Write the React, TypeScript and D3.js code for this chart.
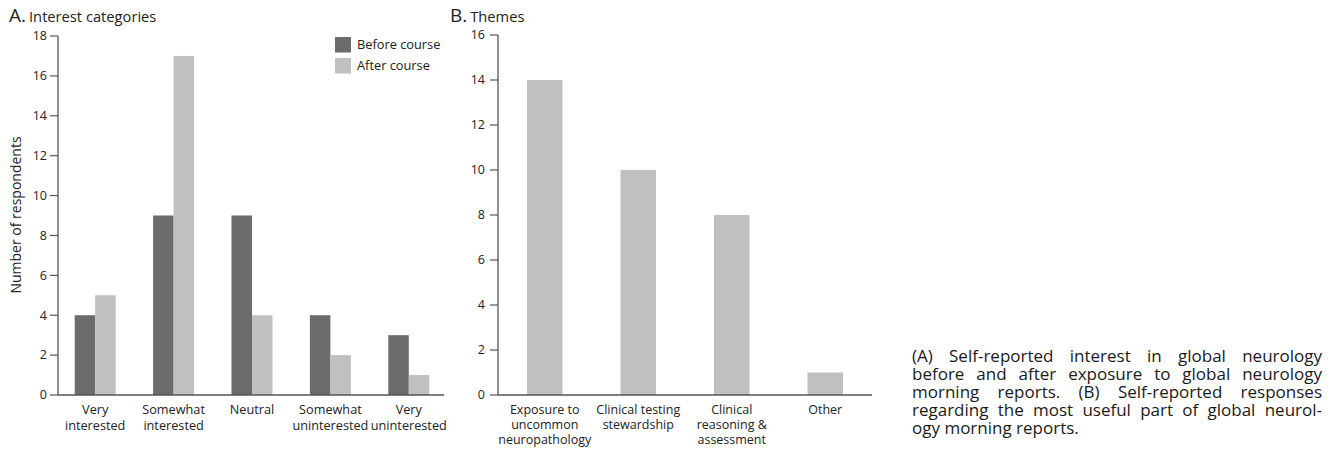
import React from "react";
import * as d3 from "d3";

const categoriesA = ["Very interested", "Somewhat interested", "Neutral", "Somewhat uninterested", "Very uninterested"];
const labelsA = [["Very", "interested"], ["Somewhat", "interested"], ["Neutral"], ["Somewhat", "uninterested"], ["Very", "uninterested"]];
const beforeValues = [4, 9, 9, 4, 3];
const afterValues = [5, 17, 4, 2, 1];
const ticksA = [0, 2, 4, 6, 8, 10, 12, 14, 16, 18];

const categoriesB = ["Exposure to uncommon neuropathology", "Clinical testing stewardship", "Clinical reasoning & assessment", "Other"];
const labelsB = [["Exposure to", "uncommon", "neuropathology"], ["Clinical testing", "stewardship"], ["Clinical", "reasoning &", "assessment"], ["Other"]];
const themeValues = [14, 10, 8, 1];
const ticksB = [0, 2, 4, 6, 8, 10, 12, 14, 16];

const seriesNames = ["Before course", "After course"];
const captionLines = [
  "(A) Self-reported interest in global neurology",
  "before and after exposure to global neurology",
  "morning reports. (B) Self-reported responses",
  "regarding the most useful part of global neurol-",
  "ogy morning reports.",
];

const FONT = "'Open Sans', 'Noto Sans', sans-serif";
const DARK = "#6b6b6b";
const LIGHT = "#c0c0c0";
const AXIS = "#555";
const TEXT = "#222";

let ctx: CanvasRenderingContext2D | null = null;
function measure(t: string, size: number) {
  if (!ctx) ctx = document.createElement("canvas").getContext("2d");
  if (!ctx) return t.length * size * 0.55;
  ctx.font = `${size}px 'Open Sans'`;
  return ctx.measureText(t).width;
}

function Caption({ x, y, width, lh, size }: any) {
  return (
    <g fontFamily={FONT} fontSize={size} fill="#1a1a1a">
      {captionLines.map((line, i) => {
        const yy = y + i * lh;
        const last = i === captionLines.length - 1;
        if (last) return <text key={i} x={x} y={yy}>{line}</text>;
        const words = line.split(" ");
        const wl = words.map((w) => measure(w, size));
        const total = wl.reduce((a, b) => a + b, 0);
        const gap = (width - total) / (words.length - 1);
        let cx = x;
        return (
          <g key={i}>
            {words.map((w, j) => {
              const px = cx;
              cx += wl[j] + gap;
              return <text key={j} x={px} y={yy}>{w}</text>;
            })}
          </g>
        );
      })}
    </g>
  );
}

export default function App() {
  const y0 = 395;
  // Panel A
  const axA = 58, axAEnd = 444;
  const xA = d3.scaleBand().domain(categoriesA).range([56, 448]).padding(0);
  const yA = d3.scaleLinear().domain([0, 18]).range([y0, 36]);
  const barW = 20.5;
  const xInner = d3.scaleBand().domain(seriesNames).range([0, barW * 2]);
  const groupW = barW * 2;

  // Panel B
  const axB = 498, axBEnd = 872;
  const xB = d3.scaleBand().domain(categoriesB).range([axB, axBEnd]).padding(0);
  const yB = d3.scaleLinear().domain([0, 16]).range([y0, 35]);
  const barWB = xB.bandwidth() * 0.38;

  const tickLen = 8;
  const tickFont = 12.5;

  return (
    <svg width={1336} height={451} style={{ position: "absolute", left: 0, top: 0, background: "#fff" }} fontFamily={FONT}>
      {/* Panel A titles */}
      <text x={9} y={22} fontSize={19} fill={TEXT}>A.<tspan fontSize={14.7} dx={3}>Interest categories</tspan></text>
      <text transform={`translate(21,215) rotate(-90)`} textAnchor="middle" fontSize={14} fill={TEXT}>Number of respondents</text>

      {/* Panel A bars */}
      {categoriesA.map((c, i) => {
        const gx = (xA(c) as number) + xA.bandwidth() / 2 - groupW / 2;
        return (
          <g key={c}>
            <rect x={gx + (xInner("Before course") as number)} y={yA(beforeValues[i])} width={xInner.bandwidth()} height={y0 - yA(beforeValues[i])} fill={DARK} />
            <rect x={gx + (xInner("After course") as number)} y={yA(afterValues[i])} width={xInner.bandwidth()} height={y0 - yA(afterValues[i])} fill={LIGHT} />
          </g>
        );
      })}
      {/* Panel A axes */}
      <line x1={axA} x2={axA} y1={yA(18)} y2={y0} stroke={AXIS} strokeWidth={1.3} />
      <line x1={axA} x2={axAEnd} y1={y0} y2={y0} stroke={AXIS} strokeWidth={1.3} />
      {ticksA.map((t) => (
        <g key={t}>
          <line x1={axA - tickLen} x2={axA} y1={yA(t)} y2={yA(t)} stroke={AXIS} strokeWidth={1.2} />
          <text x={axA - 11} y={yA(t)} dy="0.35em" textAnchor="end" fontSize={tickFont} fill={TEXT}>{t}</text>
        </g>
      ))}
      {categoriesA.map((c, i) => (
        <text key={c} textAnchor="middle" fontSize={12.7} fill={TEXT}>
          {labelsA[i].map((l, j) => (
            <tspan key={j} x={(xA(c) as number) + xA.bandwidth() / 2} y={414 + j * 15.5}>{l}</tspan>
          ))}
        </text>
      ))}
      {/* Legend */}
      {seriesNames.map((s, i) => (
        <g key={s}>
          <rect x={335} y={37 + i * 21} width={16} height={15.5} fill={i === 0 ? DARK : LIGHT} />
          <text x={357} y={49 + i * 21} fontSize={12.8} fill={TEXT}>{s}</text>
        </g>
      ))}

      {/* Panel B */}
      <text x={450} y={22} fontSize={19} fill={TEXT}>B.<tspan fontSize={14.7} dx={3}>Themes</tspan></text>
      {categoriesB.map((c, i) => (
        <rect key={c} x={(xB(c) as number) + xB.bandwidth() / 2 - barWB / 2} y={yB(themeValues[i])} width={barWB} height={y0 - yB(themeValues[i])} fill={LIGHT} />
      ))}
      <line x1={axB} x2={axB} y1={yB(16)} y2={y0} stroke={AXIS} strokeWidth={1.3} />
      <line x1={axB} x2={axBEnd} y1={y0} y2={y0} stroke={AXIS} strokeWidth={1.3} />
      {ticksB.map((t) => (
        <g key={t}>
          <line x1={axB - tickLen} x2={axB} y1={yB(t)} y2={yB(t)} stroke={AXIS} strokeWidth={1.2} />
          <text x={axB - 13} y={yB(t)} dy="0.35em" textAnchor="end" fontSize={tickFont} fill={TEXT}>{t}</text>
        </g>
      ))}
      {categoriesB.map((c, i) => (
        <text key={c} textAnchor="middle" fontSize={12.5} fill={TEXT}>
          {labelsB[i].map((l, j) => (
            <tspan key={j} x={(xB(c) as number) + xB.bandwidth() / 2} y={414 + j * 15}>{l}</tspan>
          ))}
        </text>
      ))}

      <Caption x={912} y={362} width={410} lh={18} size={17} />
    </svg>
  );
}
